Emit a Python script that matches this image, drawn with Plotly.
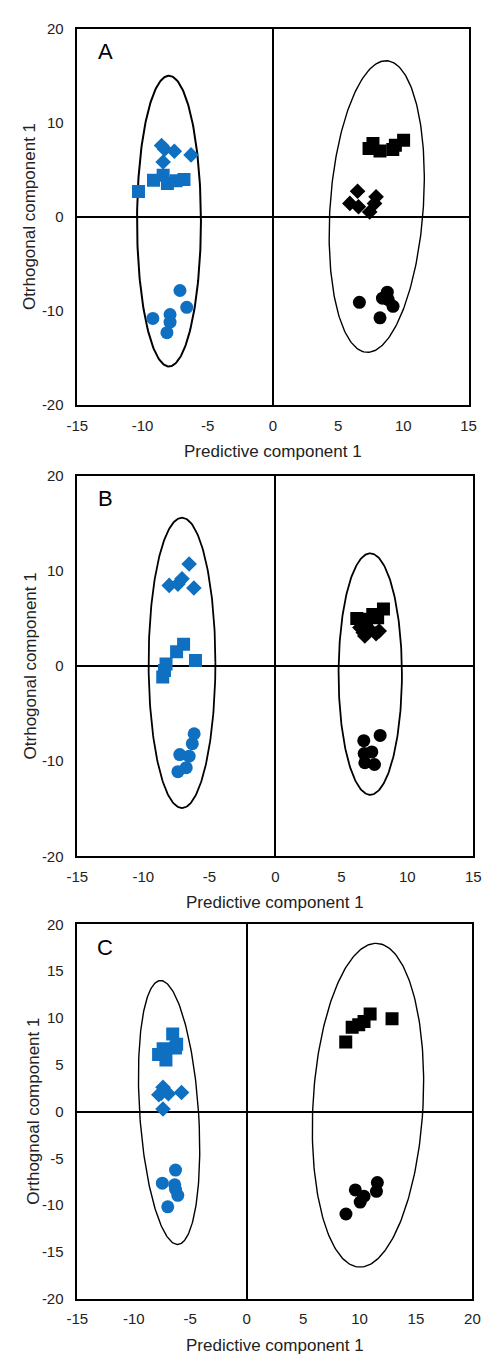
import numpy as np
import plotly.graph_objects as go

W, H = 490, 1362
BLUE = "#0f6fc0"
BLACK = "#000000"

# ---------------- Panel A data ----------------
A_blue_sq_x = [-10.31, -9.16, -8.42, -8.09, -7.43, -6.82]
A_blue_sq_y = [2.70, 3.90, 4.43, 3.55, 3.83, 3.97]
A_blue_di_x = [-8.54, -8.30, -7.56, -8.42, -6.28]
A_blue_di_y = [7.58, 7.20, 6.98, 5.83, 6.59]
A_blue_ci_x = [-9.21, -7.89, -7.89, -8.13, -7.13, -6.61]
A_blue_ci_y = [-10.80, -10.38, -11.20, -12.31, -7.83, -9.62]
A_black_sq_x = [7.37, 7.67, 8.21, 9.19, 9.39, 10.02]
A_black_sq_y = [7.27, 7.80, 6.99, 7.17, 7.62, 8.15]
A_black_di_x = [5.90, 6.49, 6.56, 7.42, 7.91, 7.79]
A_black_di_y = [1.43, 2.73, 1.08, 0.52, 2.13, 1.43]
A_black_ci_x = [6.63, 8.77, 8.40, 9.21, 8.21, 8.85]
A_black_ci_y = [-9.09, -8.01, -8.64, -9.51, -10.73, -8.81]

# ---------------- Panel B data ----------------
B_blue_sq_x = [-6.95, -7.48, -6.05, -8.28, -8.40, -8.53]
B_blue_sq_y = [2.32, 1.53, 0.59, 0.24, -0.45, -1.14]
B_blue_di_x = [-6.53, -8.04, -7.38, -7.07, -6.17]
B_blue_di_y = [10.75, 8.50, 8.64, 9.19, 8.22]
B_blue_ci_x = [-6.15, -6.29, -7.24, -6.53, -6.75, -7.38]
B_blue_ci_y = [-7.11, -8.15, -9.30, -9.47, -10.68, -11.10]
B_black_sq_x = [6.17, 6.66, 7.38, 8.19, 6.90, 7.75]
B_black_sq_y = [5.03, 4.58, 5.45, 6.03, 4.93, 5.10]
B_black_di_x = [6.78, 7.63, 6.41, 7.14, 7.87, 6.66]
B_black_di_y = [3.19, 3.43, 4.06, 3.88, 3.71, 3.54]
B_black_ci_x = [7.94, 6.70, 7.31, 6.73, 6.78, 7.51]
B_black_ci_y = [-7.28, -7.84, -9.02, -9.19, -10.16, -10.34]

# ---------------- Panel C data ----------------
C_blue_sq_x = [-6.55, -6.20, -6.30, -7.40, -7.80, -7.15]
C_blue_sq_y = [8.30, 7.20, 6.80, 6.70, 6.10, 5.50]
C_blue_di_x = [-7.41, -7.78, -6.93, -5.77, -7.41, -7.56]
C_blue_di_y = [2.60, 1.79, 1.90, 2.04, 0.28, 1.97]
C_blue_ci_x = [-6.30, -7.47, -6.37, -6.10, -6.99, -6.30]
C_blue_ci_y = [-6.25, -7.65, -7.82, -8.95, -10.18, -8.30]
C_black_sq_x = [8.78, 9.35, 9.93, 10.40, 10.94, 12.88]
C_black_sq_y = [7.43, 9.02, 9.28, 9.63, 10.42, 9.93]
C_black_ci_x = [8.80, 9.63, 10.06, 10.40, 11.58, 11.50]
C_black_ci_y = [-10.95, -8.38, -9.67, -9.05, -7.59, -8.52]

# Ellipses: center x, center y, half-width a, half-height b, shear s, line width
ELL_A = [(-7.97, -0.45, 2.45, 15.45, 0.0, 2.0), (7.96, 1.10, 3.58, 15.50, 0.71, 1.4)]
ELL_B = [(-7.07, 0.35, 2.53, 15.27, 0.0, 1.8), (7.19, -0.83, 2.40, 12.70, 0.0, 1.8)]
ELL_C = [(-6.87, -0.10, 2.61, 14.10, -0.75, 1.4), (10.75, 0.68, 4.88, 17.30, 0.71, 1.4)]

panel_letters = ["A", "B", "C"]
x_title = "Predictive component 1"
y_titles = ["Otrhogonal component 1", "Otrhogonal component 1", "Orthognoal component 1"]
x_ranges = [[-15, 15], [-15, 15], [-15, 20]]
x_tickvals = [[-15, -10, -5, 0, 5, 10, 15], [-15, -10, -5, 0, 5, 10, 15], [-15, -10, -5, 0, 5, 10, 15, 20]]
x_ticktext = [["-15", "-10", "-5", "0", "5", "10", "15"], ["-15", "-10", "-5", "0", "5", "10", "15"],
              ["-15", "-10", "-5", "0", "5", "10", "15", "20"]]
y_tickvals = [[-20, -10, 0, 10, 20], [-20, -10, 0, 10, 20], [-20, -15, -10, -5, 0, 5, 10, 15, 20]]
y_ticktext = [["-20", "-10", "0", "10", "20"], ["-20", "-10", "0", "10", "20"],
              ["-20", "-15", "-10", "-5", "0", "5", "10", "15", "20"]]

# plot areas in pixels (left, right, top, bottom)
boxes = [(69, 476, 20, 401), (69, 481, 473, 858), (69, 480, 927, 1306)]

fig = go.Figure()


def add_pts(xs, ys, sym, color, size, ax):
    fig.add_trace(go.Scatter(
        x=xs, y=ys, mode="markers",
        marker=dict(symbol=sym, color=color, size=size, line=dict(width=0)),
        xaxis="x" + ax, yaxis="y" + ax, showlegend=False, hoverinfo="skip"))


def add_ell(e, ax):
    cx, cy, a, b, s, w = e
    t = np.linspace(0, 2 * np.pi, 241)
    fig.add_trace(go.Scatter(
        x=cx + a * np.cos(t) + s * np.sin(t), y=cy + b * np.sin(t),
        mode="lines", line=dict(color="black", width=w),
        xaxis="x" + ax, yaxis="y" + ax, showlegend=False, hoverinfo="skip"))


panels = [
    ("", ELL_A, [(A_blue_sq_x, A_blue_sq_y, "square", BLUE), (A_blue_di_x, A_blue_di_y, "diamond", BLUE),
                 (A_blue_ci_x, A_blue_ci_y, "circle", BLUE), (A_black_sq_x, A_black_sq_y, "square", BLACK),
                 (A_black_di_x, A_black_di_y, "diamond", BLACK), (A_black_ci_x, A_black_ci_y, "circle", BLACK)]),
    ("2", ELL_B, [(B_blue_sq_x, B_blue_sq_y, "square", BLUE), (B_blue_di_x, B_blue_di_y, "diamond", BLUE),
                  (B_blue_ci_x, B_blue_ci_y, "circle", BLUE), (B_black_sq_x, B_black_sq_y, "square", BLACK),
                  (B_black_di_x, B_black_di_y, "diamond", BLACK), (B_black_ci_x, B_black_ci_y, "circle", BLACK)]),
    ("3", ELL_C, [(C_blue_sq_x, C_blue_sq_y, "square", BLUE), (C_blue_di_x, C_blue_di_y, "diamond", BLUE),
                  (C_blue_ci_x, C_blue_ci_y, "circle", BLUE), (C_black_sq_x, C_black_sq_y, "square", BLACK),
                  (C_black_ci_x, C_black_ci_y, "circle", BLACK)]),
]
sizes = {"square": 13, "diamond": 12, "circle": 13}

for ax, ells, groups in panels:
    for e in ells:
        add_ell(e, ax)
    for xs, ys, sym, col in groups:
        add_pts(xs, ys, sym, col, sizes[sym], ax)

FAM = "Liberation Sans, Arial, sans-serif"
font = dict(family=FAM, size=15, color="#222")
layout = dict(width=W, height=H, margin=dict(l=0, r=0, t=0, b=0),
              paper_bgcolor="white", plot_bgcolor="white", showlegend=False, font=font)
annotations = []
for i, (l, r, t, b) in enumerate(boxes):
    sfx = "" if i == 0 else str(i + 1)
    xd = [l / W, r / W]
    yd = [1 - b / H, 1 - t / H]
    layout["xaxis" + sfx] = dict(
        domain=xd, range=x_ranges[i], tickmode="array", tickvals=x_tickvals[i], ticktext=x_ticktext[i],
        showgrid=False, zeroline=True, zerolinecolor="black", zerolinewidth=1.5,
        showline=True, mirror=True, linecolor="black", linewidth=1.5,
        ticks="outside", ticklen=6, tickcolor="rgba(0,0,0,0)",
        anchor="y" + sfx, tickfont=font, fixedrange=True)
    layout["yaxis" + sfx] = dict(
        domain=yd, range=[-20, 20], tickmode="array", tickvals=y_tickvals[i], ticktext=y_ticktext[i],
        showgrid=False, zeroline=True, zerolinecolor="black", zerolinewidth=1.5,
        showline=True, mirror=True, linecolor="black", linewidth=1.5,
        ticks="outside", ticklen=9, tickcolor="rgba(0,0,0,0)",
        anchor="x" + sfx, tickfont=font, fixedrange=True)
    # panel letter
    annotations.append(dict(text=panel_letters[i], x=(l + 29) / W, y=1 - (t + 23) / H,
                            xref="paper", yref="paper", showarrow=False,
                            font=dict(family=FAM, size=22, color="black"),
                            xanchor="center", yanchor="middle"))
    # x title
    annotations.append(dict(text=x_title, x=(l + r) / 2 / W, y=1 - (b + 47) / H,
                            xref="paper", yref="paper", showarrow=False,
                            font=dict(family=FAM, size=17, color="#222"),
                            xanchor="center", yanchor="middle"))
    # y title
    annotations.append(dict(text=y_titles[i], x=(20 if i < 2 else 23) / W, y=1 - (t + b) / 2 / H,
                            xref="paper", yref="paper", showarrow=False, textangle=-90,
                            font=dict(family=FAM, size=17, color="#222"),
                            xanchor="center", yanchor="middle"))
layout["annotations"] = annotations
fig.update_layout(**layout)
fig.write_html("out.html")
